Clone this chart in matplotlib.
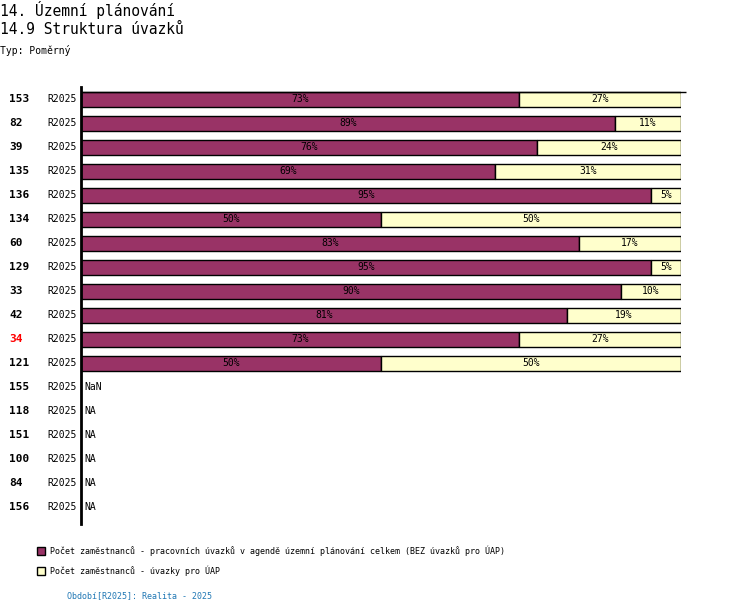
import matplotlib
matplotlib.use("Agg")
import matplotlib.pyplot as plt
from matplotlib.patches import Rectangle

# --- DATA ---
ids = ["153", "82", "39", "135", "136", "134", "60", "129", "33", "42", "34", "121",
       "155", "118", "151", "100", "84", "156"]
period = "R2025"
share_main = [73, 89, 76, 69, 95, 50, 83, 95, 90, 81, 73, 50]   # pracovní úvazky
share_uap = [27, 11, 24, 31, 5, 50, 17, 5, 10, 19, 27, 50]      # úvazky pro ÚAP
missing = ["NaN", "NA", "NA", "NA", "NA", "NA"]
highlight = "34"

legend_labels = [
    "Počet zaměstnanců - pracovních úvazků v agendě územní plánování celkem (BEZ úvazků pro ÚAP)",
    "Počet zaměstnanců - úvazky pro ÚAP",
]
c_main = "#993366"
c_uap = "#ffffcc"

plt.rcParams['font.family'] = ['DejaVu Sans Mono']

# --- PLOT ---
W, H = 750, 614
fig = plt.figure(figsize=(W / 100, H / 100), dpi=100)
ax = fig.add_axes([81 / W, (H - 524) / H, 600 / W, 437 / H])

bh = 0.64
n = len(share_main)
rows = list(range(n))
ax.barh(rows, share_main, height=bh, color=c_main, edgecolor="black", linewidth=1)
ax.barh(rows, share_uap, left=share_main, height=bh, color=c_uap, edgecolor="black", linewidth=1)

for i in rows:
    ax.text(share_main[i] / 2, i, f"{share_main[i]}%", ha="center", va="center", fontsize=7)
    ax.text(share_main[i] + share_uap[i] / 2, i, f"{share_uap[i]}%", ha="center", va="center", fontsize=7)

for j, t in enumerate(missing):
    ax.text(0.5, n + j, t, ha="left", va="center", fontsize=7)

tr = ax.get_yaxis_transform()
for i, lab in enumerate(ids):
    ax.text(-0.12, i, lab, transform=tr, ha="left", va="center", fontsize=8,
            fontweight="bold", color="red" if lab == highlight else "black")
    ax.text(-0.0567, i, period, transform=tr, ha="left", va="center", fontsize=7)

ax.set_xlim(0, 100)
ax.set_ylim(17.69, -0.52)
for s in ["top", "right", "bottom"]:
    ax.spines[s].set_visible(False)
ax.spines["left"].set_linewidth(2)
ax.set_xticks([])
ax.set_yticks([])
# top guide line along the first bar
ax.hlines(-bh / 2, 0, 100.8, color="black", linewidth=1, clip_on=False)

# titles
fig.text(0 / W, 1 - 10 / H, "14. Územní plánování", fontsize=10.5, va="center", ha="left")
fig.text(0 / W, 1 - 30 / H, "14.9 Struktura úvazků", fontsize=10.5, va="center", ha="left")
fig.text(0 / W, 1 - 50 / H, "Typ: Poměrný", fontsize=7, va="center", ha="left")

# legend
for k, (lab, col) in enumerate(zip(legend_labels, [c_main, c_uap])):
    y = 551 + 20 * k
    fig.patches.append(Rectangle((37 / W, 1 - (y + 4) / H), 8 / W, 8 / H, facecolor=col,
                                 edgecolor="black", linewidth=1, transform=fig.transFigure))
    fig.text(50 / W, 1 - y / H, lab, fontsize=6, va="center", ha="left")

fig.text(67 / W, 1 - 596 / H, "Období[R2025]: Realita - 2025", fontsize=6, va="center",
         ha="left", color="#1f77b4")

plt.savefig("out.png", dpi=100)
